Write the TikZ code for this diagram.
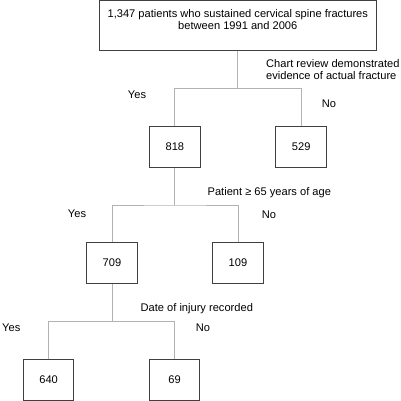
\documentclass[tikz,border=0pt]{standalone}
\usepackage{fontspec}
\setmainfont{Liberation Sans}
\begin{document}
\begin{tikzpicture}[x=1pt,y=-1pt,
  font=\fontsize{11.1}{12.4}\selectfont,
  numbox/.style={draw=black!75, line width=1pt, minimum width=50.5pt, minimum height=40.6pt, inner sep=0pt},
  conn/.style={draw=black!30, line width=1pt},
  lbl/.style={inner sep=0pt}]
\useasboundingbox (0,0) rectangle (400,401);
% top box
\node[draw=black!75, line width=1pt, minimum width=277pt, minimum height=50.5pt, inner sep=0pt] (top) at (237.8,25.75) {};
\node[lbl, align=center] (toptext) at (237.8,19.3) {1,347 patients who sustained cervical spine fractures\\between 1991 and 2006};
% number boxes
\node[numbox] (n818) at (174.85,147) {818};
\node[numbox] (n529) at (301.2,147) {529};
\node[numbox] (n709) at (112,263) {709};
\node[numbox] (n109) at (238,263) {109};
\node[numbox] (n640) at (48.65,380) {640};
\node[numbox] (n69) at (174.65,380) {69};
% junctions
\coordinate (j1) at (237.8,88.3);
\coordinate (j2) at (174.85,205);
\coordinate (j3) at (112,321.7);
\draw[conn] (top.south) -- (j1);
\draw[conn] (n818.north) |- (j1) -| (n529.north);
\draw[conn] (n818.south) -- (j2);
\draw[conn] (n709.north) |- (j2) -| (n109.north);
\draw[conn] (n709.south) -- (j3);
\draw[conn] (n640.north) |- (j3) -| (n69.north);
% labels
\node[lbl, align=left, anchor=west] (q1) at (266,69.5) {Chart review demonstrated\\evidence of actual fracture};
\node[lbl] (y1) at (137,94.5) {Yes};
\node[lbl] (no1) at (329,104) {No};
\node[lbl] (q2) at (269.3,192.3) {Patient ≥ 65 years of age};
\node[lbl] (y2) at (77,214) {Yes};
\node[lbl] (no2) at (269,214.3) {No};
\node[lbl] (q3) at (196.8,308.3) {Date of injury recorded};
\node[lbl] (y3) at (11.3,327.7) {Yes};
\node[lbl] (no3) at (203,327.7) {No};
\end{tikzpicture}
\end{document}
